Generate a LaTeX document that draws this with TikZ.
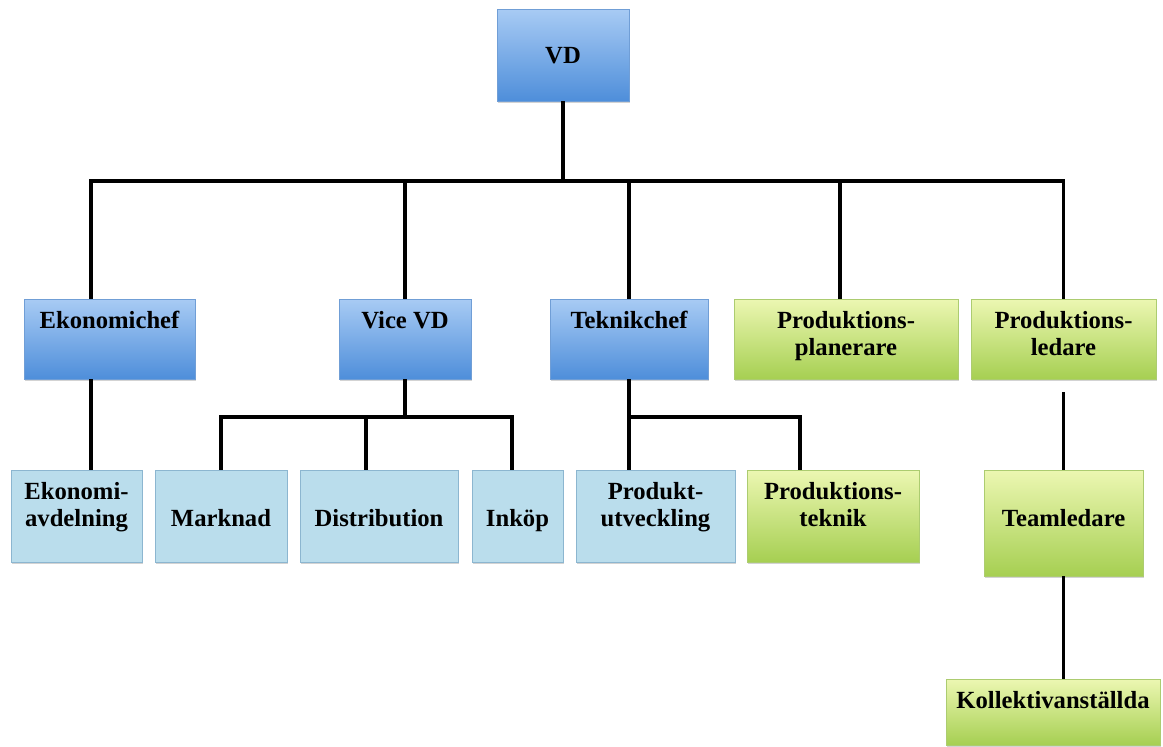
\documentclass[tikz,border=0pt]{standalone}
\usepackage{fontspec}
\setmainfont{Liberation Serif}
\usetikzlibrary{shadows}

\definecolor{blatopp}{RGB}{168,203,244}
\definecolor{blabotten}{RGB}{78,142,218}
\definecolor{blakant}{RGB}{112,158,214}
\definecolor{ljusbla}{RGB}{186,221,236}
\definecolor{ljuskant}{RGB}{140,182,208}
\definecolor{grontopp}{RGB}{236,247,178}
\definecolor{gronbotten}{RGB}{166,207,82}
\definecolor{gronkant}{RGB}{172,204,112}

\newcommand{\rader}[1]{\begin{tabular}[t]{@{}c@{}}#1\end{tabular}}

\begin{document}
\begin{tikzpicture}[x=.75pt, y=-.75pt,
  ruta/.style={inner sep=0pt, line width=.6pt, text height=21.75pt,
    font=\fontsize{18.5}{20.25}\selectfont\bfseries,
    drop shadow={shadow xshift=.8pt, shadow yshift=-1.2pt, opacity=.35}},
  bla/.style={ruta, draw=blakant, top color=blatopp, bottom color=blabotten},
  ljus/.style={ruta, draw=ljuskant, fill=ljusbla},
  gron/.style={ruta, draw=gronkant, top color=grontopp, bottom color=gronbotten},
  niva2/.style={text depth=38.25pt},
  niva3/.style={text depth=47.25pt},
  linje/.style={line width=2.5pt, black}]

\useasboundingbox (0,0) rectangle (1163,746);

%%%%%%%%%%%%%-------------VD
\node[bla, minimum width=99pt, text height=40.5pt, text depth=28.5pt] (vd) at (563,55) {VD};

%%%%%%%%%%%%%-------------chefer
\node[bla, niva2, minimum width=128.25pt] (ekchef) at (109.5,339) {\rader{Ekonomichef}};
\node[bla, niva2, minimum width=99pt] (vicevd) at (405,339) {\rader{Vice VD}};
\node[bla, niva2, minimum width=118.5pt] (tekchef) at (629,339) {\rader{Teknikchef}};
\node[gron, niva2, minimum width=168pt] (prodplan) at (846,339) {\rader{Produktions-\\planerare}};
\node[gron, niva2, minimum width=138.75pt] (prodled) at (1063.5,339) {\rader{Produktions-\\ledare}};

%%%%%%%%%%%%%-------------avdelningar
\node[ljus, niva3, minimum width=98.25pt] (ekavd) at (76.5,516) {\rader{Ekonomi-\\avdelning}};
\node[ljus, niva3, minimum width=99pt] (marknad) at (221,516) {\rader{\\Marknad}};
\node[ljus, niva3, minimum width=118.5pt] (distr) at (379,516) {\rader{\\Distribution}};
\node[ljus, niva3, minimum width=68.25pt] (inkop) at (517.5,516) {\rader{\\Inköp}};
\node[ljus, niva3, minimum width=119.25pt] (produtv) at (655.5,516) {\rader{Produkt-\\utveckling}};
\node[gron, niva3, minimum width=129pt] (prodtek) at (833,516) {\rader{Produktions-\\teknik}};
\node[gron, minimum width=119.25pt, text depth=57.75pt] (team) at (1063.5,523) {\rader{\\Teamledare}};
\node[gron, minimum width=160.5pt, text depth=27.75pt] (koll) at (1053,712) {\rader{Kollektivanställda}};

%%%%%%%%%%%%%-------------linjer
\coordinate (b0) at (563,181);
\coordinate (d1) at (91,181);
\coordinate (d4) at (840,181);
\coordinate (d5) at (1063.5,181);
\draw[linje] (vd) -- (b0);
\draw[linje] (ekchef.north -| d1) |- (d5) -- (prodled);
\draw[linje] (vicevd |- d1) -- (vicevd);
\draw[linje] (tekchef |- d1) -- (tekchef);
\draw[linje] (d4) -- (prodplan.north -| d4);

\draw[linje] (ekchef.south -| d1) -- (ekavd.north -| d1);

\coordinate (v2) at (366,417);
\coordinate (v3) at (512,417);
\draw[linje] (vicevd) -- (vicevd |- v3);
\draw[linje] (marknad) |- (v3) -- (inkop.north -| v3);
\draw[linje] (v2) -- (distr.north -| v2);

\coordinate (t1) at (629,417);
\coordinate (t2) at (800,417);
\draw[linje] (tekchef) -- (t1) -- (produtv.north -| t1);
\draw[linje] (t1) -| (prodtek.north -| t2);

\coordinate (p1) at (1063.5,392);
\draw[linje] (p1) -- (team);
\draw[linje] (team) -- (team.south |- koll.north);

\end{tikzpicture}
\end{document}
